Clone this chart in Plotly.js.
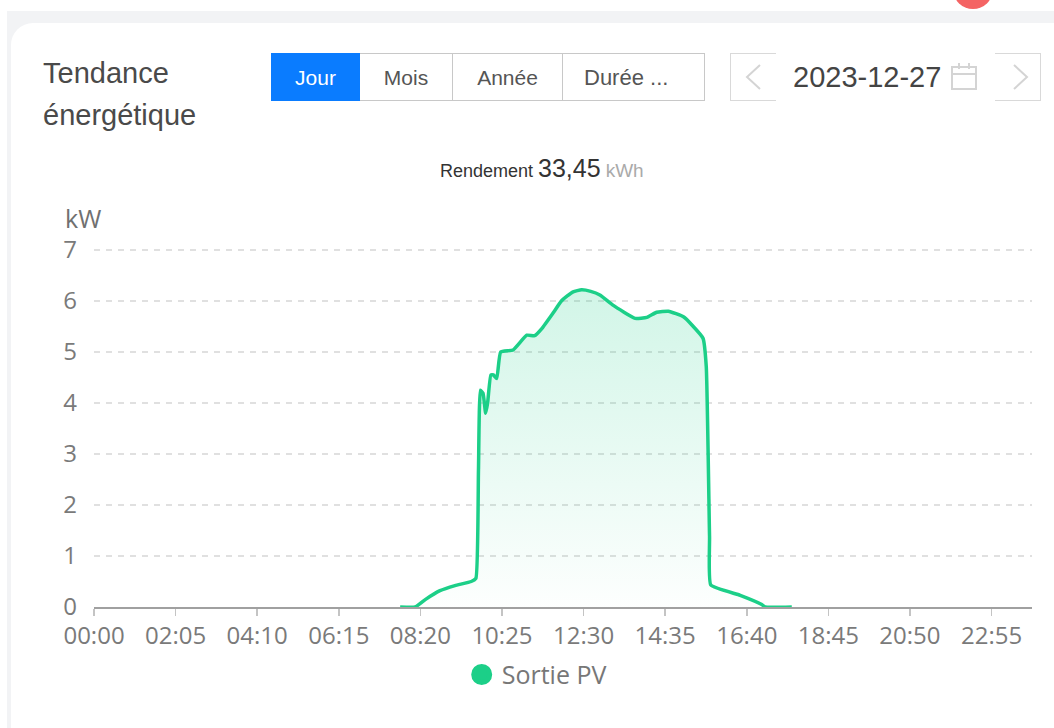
<!DOCTYPE html>
<html lang="fr">
<head>
<meta charset="utf-8">
<script src="https://cdn.plot.ly/plotly-3.0.1.min.js"></script>
<style>
html,body{margin:0;padding:0;width:1054px;height:728px;overflow:hidden;background:#fff;font-family:"Liberation Sans",Arial,sans-serif}
.abs{position:absolute}
#band{left:7px;top:11px;width:1047px;height:717px;background:#f2f3f5}
#card{left:11px;top:23px;width:1043px;height:705px;background:#fff;border-top-left-radius:22px}
#dot{left:953px;top:-31px;width:40px;height:40px;border-radius:50%;background:#f46464}
#chart{left:0;top:0;width:1054px;height:728px}
.t{white-space:nowrap;color:#444}
#head{left:43px;top:52px;font-size:29px;line-height:42px;color:#4a4a4a}
.seg{top:53px;height:48px;box-sizing:border-box;border:1.5px solid #c8c8c8;border-left:0;background:#fff;color:#555;font-size:21px;line-height:47px;text-align:center}
.nav{top:53px;width:46px;height:48px;box-sizing:border-box;border:1.5px solid #d9d9d9}
#date{left:793px;top:60px;font-size:29px;line-height:34px;color:#444}
</style>
</head>
<body>
<div class="abs" id="band"></div>
<div class="abs" id="card"></div>
<div class="abs" id="dot"></div>
<div class="abs t" id="head">Tendance<br>énergétique</div>
<div class="abs seg" style="left:271px;width:89px;background:#0a7cff;color:#fff;border:0;line-height:50px">Jour</div>
<div class="abs seg" style="left:360px;width:93px">Mois</div>
<div class="abs seg" style="left:453px;width:110px">Année</div>
<div class="abs seg" style="left:563px;width:142px;text-align:left;padding-left:21px;font-size:22px">Durée ...</div>
<div class="abs nav" style="left:730px;border-right:0"></div>
<div class="abs nav" style="left:995px;width:46px;border-left:0"></div>
<svg class="abs" style="left:730px;top:53px" width="320" height="48" fill="none" stroke="#d4d4d4" stroke-width="2">
  <path d="M30 12 L17 24 L30 36"/><path d="M284 12 L297 24 L284 36"/>
  <path d="M222 14 H246 V36 H222 Z M222 21 H246 M229 10 V16 M239 10 V16"/>
</svg>
<div class="abs t" id="date">2023-12-27</div>
<div class="abs" id="chart"></div>
<script>
const minutes = [469,492,508,530,553,578,585,589,592,596,600,603,608,612,617,623,642,663,675,686,703,716,725,734,747,761,775,795,829,847,862,880,903,916,933,938,943,945,990,1023,1028,1069];
const power = [0,0,0.15,0.32,0.42,0.5,0.56,2.69,4.25,4.19,3.8,4.0,4.55,4.55,4.48,5.0,5.04,5.33,5.32,5.46,5.76,6.0,6.1,6.18,6.22,6.19,6.12,5.92,5.66,5.68,5.78,5.8,5.69,5.53,5.27,4.71,1.38,0.43,0.23,0.05,0,0];
const tickMinutes = [0,125,250,375,500,625,750,875,1000,1125,1250,1375];
const tickLabels = ["00:00","02:05","04:10","06:15","08:20","10:25","12:30","14:35","16:40","18:45","20:50","22:55"];
const yTicks = [0,1,2,3,4,5,6,7];
const seriesName = "Sortie PV";
const green = "#1ccf88";
const tickFont = {family:'"Open Sans",sans-serif',size:24,color:"#7a7a7a"};

Plotly.newPlot("chart",[
 {x:minutes,y:power,type:"scatter",mode:"lines",showlegend:false,hoverinfo:"x+y",
  line:{color:green,width:3.5,shape:"spline",smoothing:0.4},fill:"tozeroy",
  fillgradient:{type:"vertical",colorscale:[[0,"rgba(28,207,136,0.01)"],[1,"rgba(28,207,136,0.2)"]]}},
 {x:[null],y:[null],type:"scatter",mode:"markers",name:seriesName,
  marker:{color:green,size:16,line:{color:green,width:5}}}
],{
 width:1054,height:728,
 margin:{l:94,r:22,t:249,b:121,pad:0},
 paper_bgcolor:"rgba(0,0,0,0)",plot_bgcolor:"rgba(0,0,0,0)",
 showlegend:true,
 legend:{orientation:"h",x:0.392,xanchor:"left",y:-0.125,yanchor:"top",
  font:{family:'"Open Sans",sans-serif',size:25,color:"#777"},bgcolor:"rgba(0,0,0,0)"},
 xaxis:{range:[0,1437],tickmode:"array",tickvals:tickMinutes,ticktext:tickLabels,
  showgrid:false,zeroline:false,showline:true,linecolor:"#a0a0a0",linewidth:1.5,
  ticks:"outside",ticklen:7,tickcolor:"#c4c4c4",tickwidth:1.5,tickfont:tickFont,tickangle:0},
 yaxis:{range:[0,7.02],tickmode:"array",tickvals:yTicks,showgrid:true,griddash:"6px,6px",
  gridcolor:"#e0e0e0",gridwidth:1.5,zeroline:false,showline:false,ticks:"",tickfont:tickFont,ticklabelstandoff:16},
 annotations:[
  {xref:"paper",yref:"paper",x:-0.033,y:1.087,xanchor:"left",yanchor:"middle",showarrow:false,
   text:"kW",font:{family:'"Open Sans",sans-serif',size:25,color:"#707070"}},
  {xref:"paper",yref:"paper",x:0.367,y:1.226,xanchor:"left",yanchor:"middle",showarrow:false,
   text:'Rendement <span style="font-size:25px;color:#333">33,45</span> <span style="font-size:19px;color:#aaa">kWh</span>',
   font:{family:'"Liberation Sans",sans-serif',size:18,color:"#333"}}
 ]
},{displayModeBar:false,staticPlot:true});
</script>
</body>
</html>
